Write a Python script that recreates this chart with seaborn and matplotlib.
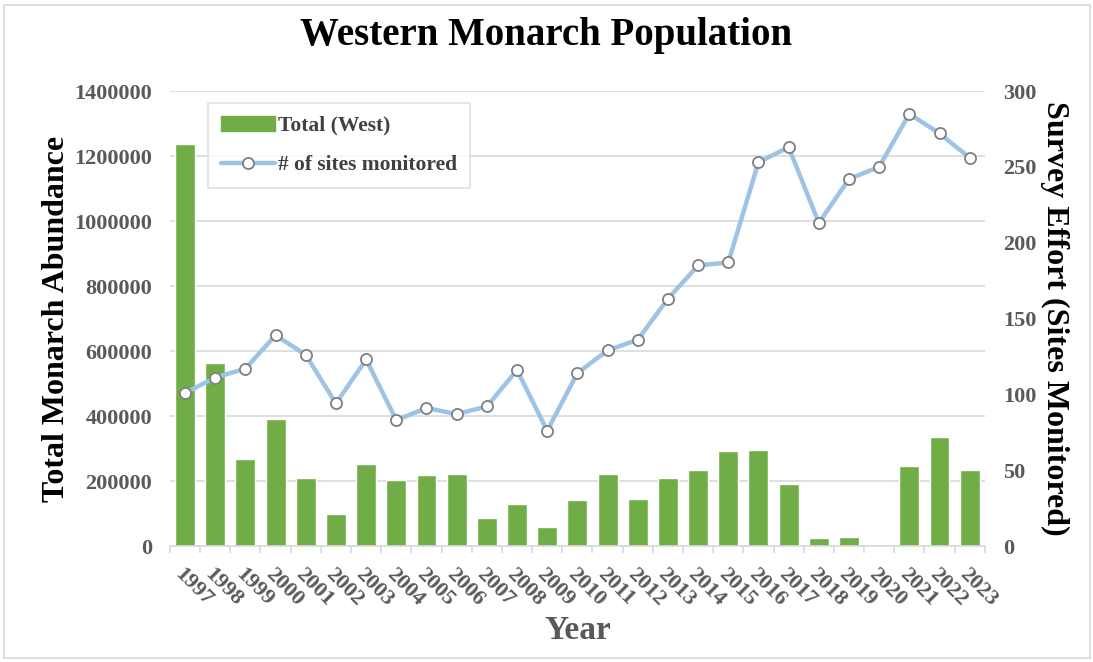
import numpy as np
import pandas as pd
import seaborn as sns
import matplotlib.pyplot as plt
from matplotlib.patches import Rectangle, Patch
from matplotlib.lines import Line2D
from matplotlib.ticker import FixedLocator

# --- data ---
years = [str(y) for y in range(1997, 2024)]
total_west = [1236000, 562000, 268000, 390000, 209000, 98500, 252000, 203000,
              217500, 220600, 86200, 129200, 57400, 141500, 220600, 144600,
              209000, 232800, 291300, 296400, 190800, 24600, 27700, 0,
              246200, 334400, 232800]
sites_monitored = [101, 111, 117, 139, 126, 94, 123, 83, 91, 87, 92, 116, 76,
                   114, 129, 136, 163, 185, 187, 253, 263, 213, 242, 250,
                   285, 272, 256]

df = pd.DataFrame({"year": years, "total": total_west, "sites": sites_monitored})
df["pos"] = np.arange(len(df))

sns.set_theme(style="white")
plt.rcParams['font.family'] = ['Liberation Serif', 'DejaVu Serif']
plt.rcParams['font.weight'] = 'bold'

green = "#70AD47"
blue = "#9DC3E6"
grey_txt = "#595959"
grid_c = "#D9D9D9"

fig = plt.figure(figsize=(10.93, 6.62), dpi=100)
ax = fig.add_axes([0.1555, 0.1752, 0.7455, 0.6873])

# chart border
fig.patches.append(Rectangle((0.004, 0.006), 0.993, 0.986, transform=fig.transFigure,
                             fill=False, edgecolor="#D9D9D9", linewidth=1.2))

sns.barplot(data=df, x="year", y="total", color=green, width=0.66,
            saturation=1, ax=ax, zorder=2)
ax.set_ylim(0, 1400000)
ax.set_xlim(-0.5, len(df) - 0.5)
ax.set_yticks(np.arange(0, 1400001, 200000))
ax.set_yticklabels([f"{v}" for v in range(0, 1400001, 200000)],
                   fontsize=16, color=grey_txt, fontweight='bold')
ax.yaxis.grid(True, color=grid_c, linewidth=1.2, zorder=0)
ax.set_axisbelow(True)

# category labels and boundary ticks
ax.set_xticks(df["pos"])
ax.set_xticklabels(df["year"], rotation=-45, ha="left", rotation_mode="anchor",
                   fontsize=16, color=grey_txt, fontweight='bold')
ax.tick_params(axis="x", which="major", length=0, pad=13)
ax.xaxis.set_minor_locator(FixedLocator(np.arange(-0.5, len(df), 1)))
ax.tick_params(axis="x", which="minor", length=5, color=grid_c, width=1.2, bottom=True)
ax.tick_params(axis="y", length=0, pad=13)

for s in ["top", "right", "left"]:
    ax.spines[s].set_visible(False)
ax.spines["bottom"].set_color(grid_c)
ax.spines["bottom"].set_linewidth(1.2)

ax.set_xlabel("Year", fontsize=24, color=grey_txt, fontweight='bold', labelpad=4)
ax.set_ylabel("Total Monarch Abundance", fontsize=23, color="black",
              fontweight='bold', labelpad=2)

# secondary axis: survey effort
ax2 = ax.twinx()
sns.lineplot(data=df, x="pos", y="sites", color=blue, linewidth=3.2,
             marker="o", markersize=8, markerfacecolor="white",
             markeredgecolor="#7F7F7F", markeredgewidth=1.3, ax=ax2, zorder=3)
ax2.set_ylim(0, 300)
ax2.set_xlim(-0.5, len(df) - 0.5)
ax2.set_yticks(np.arange(0, 301, 50))
ax2.set_yticklabels([str(v) for v in range(0, 301, 50)], fontsize=16,
                    color=grey_txt, fontweight='bold')
ax2.tick_params(axis="y", length=0, pad=13)
for s in ["top", "right", "left", "bottom"]:
    ax2.spines[s].set_visible(False)
ax2.set_ylabel("Survey Effort (Sites Monitored)", fontsize=23, color="black",
               fontweight='bold', rotation=270, labelpad=24)
ax2.grid(False)

handles = [Patch(facecolor=green, edgecolor=green),
           Line2D([0], [0], color=blue, linewidth=3.2, marker="o", markersize=8,
                  markerfacecolor="white", markeredgecolor="#7F7F7F", markeredgewidth=1.3)]
leg = ax2.legend(handles, ["Total (West)", "# of sites monitored"],
                 loc="upper left", bbox_to_anchor=(0.047, 0.974), borderaxespad=0,
                 fontsize=15.5, frameon=True, fancybox=False, borderpad=0.6,
                 labelspacing=0.9, handlelength=2.5, handletextpad=0.15)
leg.get_frame().set_edgecolor("#D9D9D9")
leg.get_frame().set_linewidth(1.2)
for t in leg.get_texts():
    t.set_color("#404040")
    t.set_fontweight("bold")

fig.suptitle("Western Monarch Population", fontsize=28, fontweight='bold',
             color="black", y=0.975)

fig.savefig("out.png", dpi=100)
